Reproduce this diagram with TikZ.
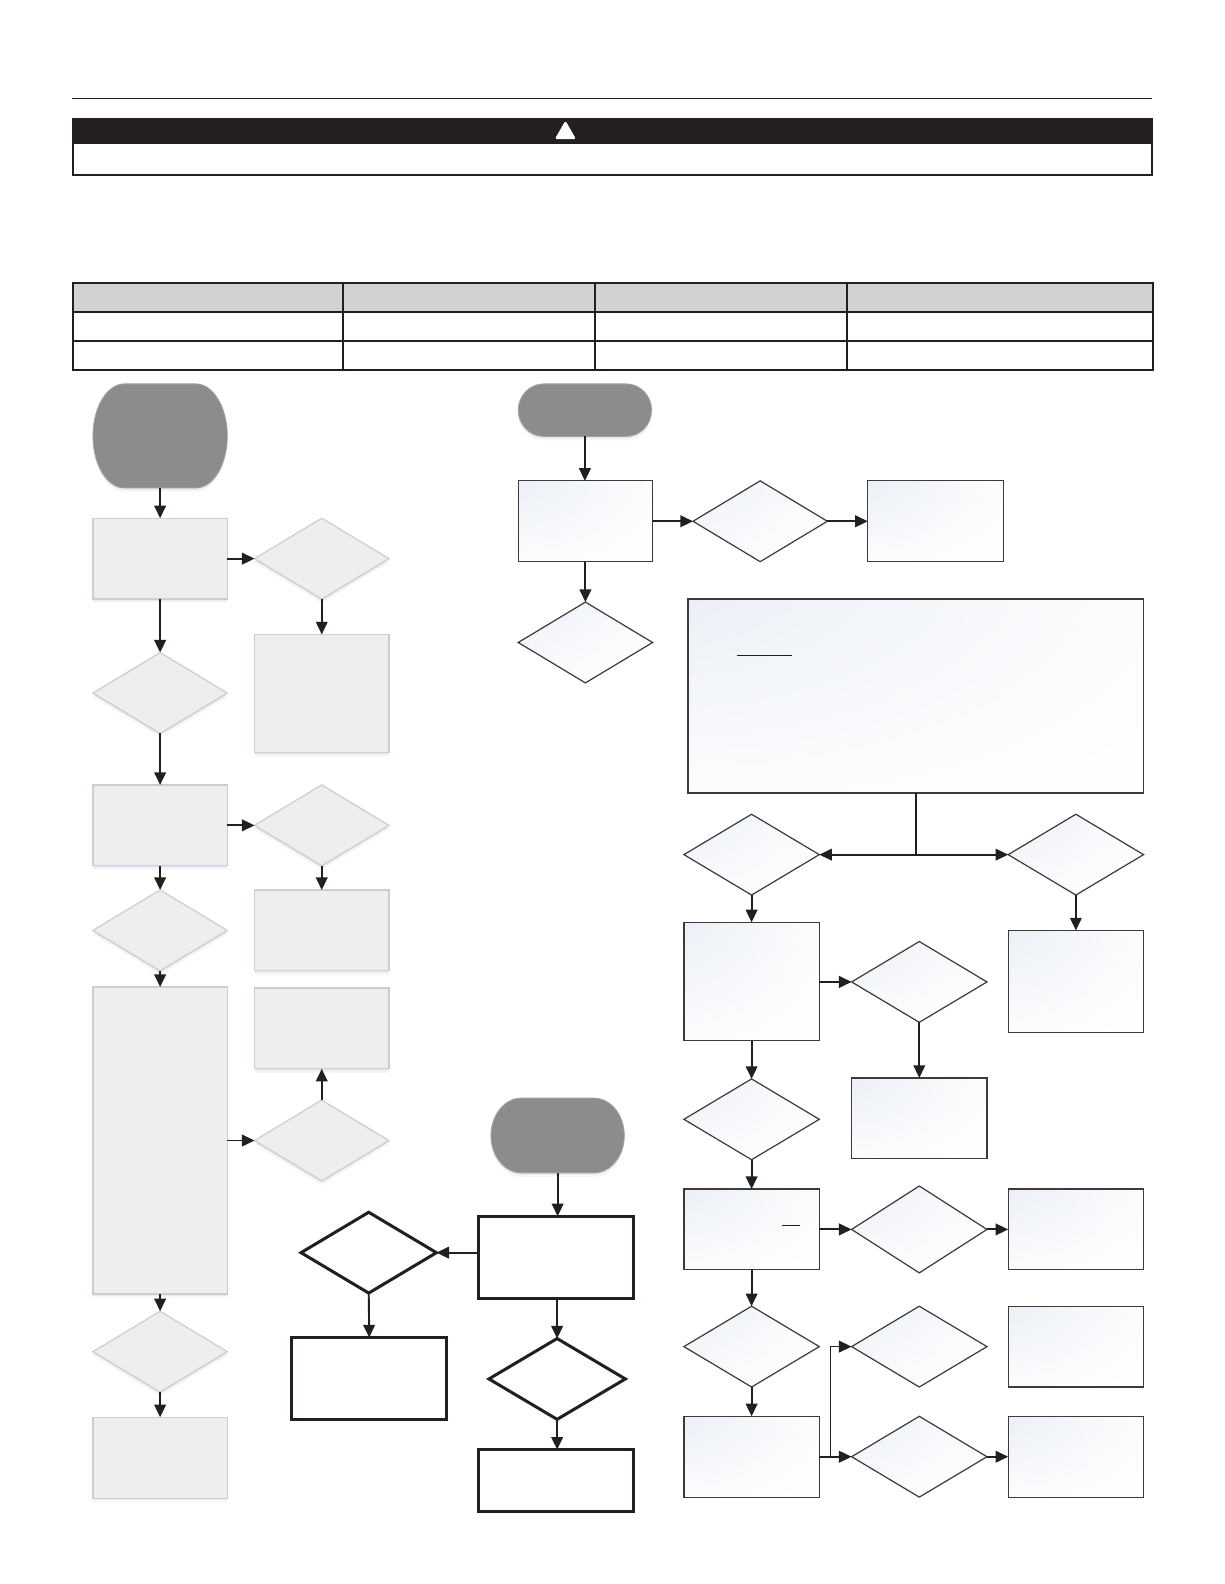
\documentclass[tikz,border=0pt]{standalone}
\usetikzlibrary{shapes.geometric,shadows,arrows.meta}
\definecolor{ink}{HTML}{231F20}
\definecolor{panelgray}{HTML}{EEEEEE}
\definecolor{panelline}{HTML}{C9CED1}
\definecolor{startgray}{HTML}{8C8C8D}
\definecolor{headgray}{HTML}{D1D2D3}
\definecolor{shadowc}{HTML}{B9BEDA}
\pgfdeclareradialshading{cornerfade}{\pgfpoint{-50bp}{50bp}}{%
  rgb(0bp)=(0.90,0.92,0.955);
  rgb(16bp)=(0.915,0.93,0.96);
  rgb(34bp)=(0.955,0.965,0.98);
  rgb(52bp)=(0.99,0.992,0.995);
  rgb(66bp)=(1,1,1);
  rgb(100bp)=(1,1,1)}
\tikzset{
  softshadow/.style={
    general shadow={fill=shadowc,fill opacity=.12,shadow xshift=0pt,shadow yshift=-4pt},
    general shadow={fill=shadowc,fill opacity=.22,shadow xshift=0pt,shadow yshift=-2pt}},
  base/.style={outer sep=0pt,inner sep=0pt},
  grayshape/.style={base,draw=panelline,line width=1.2pt,fill=panelgray,softshadow},
  tintshape/.style={base,draw=ink!88,line width=1.2pt,shading=cornerfade},
  boldshape/.style={base,draw=ink,line width=3pt,fill=white},
  cell/.style={base,draw=ink,line width=2pt},
  headcell/.style={cell,fill=headgray},
  flow/.style={draw=ink,line width=1.9pt,-{Triangle[width=11.5pt,length=12.5pt]}},
  plainflow/.style={draw=ink,line width=1.9pt},
  rule/.style={draw=ink,line width=1pt}
}
\newcommand\rbox[6]{\node[#6,rectangle,minimum width={(#4-#2)*1pt},minimum height={(#5-#3)*1pt}] (#1) at ({(#2+#4)/2},{(#3+#5)/2}) {};}
\newcommand\dbox[6]{\node[#6,diamond,aspect=1,minimum width={(#4-#2)*1pt},minimum height={(#5-#3)*1pt}] (#1) at ({(#2+#4)/2},{(#3+#5)/2}) {};}
\newcommand\capsule[7]{%
  \pgfmathsetmacro\capkx{0.55*#6}\pgfmathsetmacro\capky{0.55*#7}%
  \pgfmathsetmacro\capL{#2+#6}\pgfmathsetmacro\capR{#4-#6}%
  \pgfmathsetmacro\capT{#3+#7}\pgfmathsetmacro\capB{#5-#7}%
  \path[fill=startgray,draw=startgray!80!white,line width=.8pt,softshadow]
    (\capL,#3) -- (\capR,#3)
    .. controls ({\capR+\capkx},#3) and (#4,{\capT-\capky}) .. (#4,\capT) -- (#4,\capB)
    .. controls (#4,{\capB+\capky}) and ({\capR+\capkx},#5) .. (\capR,#5) -- (\capL,#5)
    .. controls ({\capL-\capkx},#5) and (#2,{\capB+\capky}) .. (#2,\capB) -- (#2,\capT)
    .. controls (#2,{\capT-\capky}) and ({\capL-\capkx},#3) .. (\capL,#3) -- cycle;
  \node[base,minimum width={(#4-#2)*1pt},minimum height={(#5-#3)*1pt}] (#1) at ({(#2+#4)/2},{(#3+#5)/2}) {};}
\begin{document}
\begin{tikzpicture}[x=1pt,y=-1pt]
\useasboundingbox[fill=white] (0,0) rectangle (1212,1568);

% header
\draw[rule] (71,97.5) -- (1140.5,97.5);
\rbox{wbody}{72}{118}{1140.5}{173}{base,draw=ink,line width=1.7pt}
\rbox{wbar}{71}{117}{1141}{143}{base,fill=ink}
\fill[white,draw=white,line width=2.6pt,line join=round] (559.7,122) -- (568,136.5) -- (551.4,136.5) -- cycle;

% table
\foreach \cx/\xa/\xb in {1/72/339.5,2/339.5/589,3/589/838,4/838/1141.5}{
  \rbox{th\cx}{\xa}{280}{\xb}{309}{headcell}
  \rbox{ta\cx}{\xa}{309}{\xb}{338}{cell}
  \rbox{tb\cx}{\xa}{338}{\xb}{366}{cell}
}

% left gray chart
\capsule{startA}{92}{380}{225}{483}{31}{51.5}
\rbox{gb1}{92}{513}{225}{593}{grayshape}
\dbox{gd1}{92}{646}{225}{726}{grayshape}
\rbox{gb2}{92}{777}{225}{857}{grayshape}
\dbox{gd2}{92}{881}{225}{961}{grayshape}
\rbox{gb3}{92}{977}{225}{1281}{grayshape}
\dbox{gd3}{92}{1298}{225}{1378}{grayshape}
\rbox{gb4}{92}{1403}{225}{1483}{grayshape}
\dbox{gd4}{252}{513}{385}{593}{grayshape}
\rbox{gb5}{252}{628}{385}{745}{grayshape}
\dbox{gd5}{252}{777}{385}{857}{grayshape}
\rbox{gb6}{252}{881}{385}{961}{grayshape}
\rbox{gb7}{252}{978}{385}{1058}{grayshape}
\dbox{gd6}{252}{1089}{385}{1169}{grayshape}

\draw[flow] (startA.south) -- (gb1.north);
\draw[flow] (gb1.south) -- (gd1.north);
\draw[flow] (gd1.south) -- (gb2.north);
\draw[flow] (gb2.south) -- (gd2.north);
\draw[flow] (gd2.south) -- (gb3.north);
\draw[flow] (gb3.south) -- (gd3.north);
\draw[flow] (gd3.south) -- (gb4.north);
\draw[flow] (gb1.east) -- (gd4.west);
\draw[flow] (gd4.south) -- (gb5.north);
\draw[flow] (gb2.east) -- (gd5.west);
\draw[flow] (gd5.south) -- (gb6.north);
\draw[flow] (gb3.east) -- (gd6.west);
\draw[flow] (gd6.north) -- (gb7.south);

% upper middle
\capsule{startB}{513}{380}{645}{432}{25}{26}
\rbox{tb8}{513}{476}{646}{556}{tintshape}
\dbox{td7}{686}{476}{819}{556}{tintshape}
\rbox{tb9}{859}{476}{993}{556}{tintshape}
\dbox{td8}{513}{596}{646}{676}{tintshape}
\draw[flow] (startB.south) -- (startB.south |- tb8.north);
\draw[flow] (tb8.east) -- (td7.west);
\draw[flow] (td7.east) -- (tb9.west);
\draw[flow] (tb8.south) -- (td8.north);

% right chart
\rbox{big}{681}{593}{1132}{785}{tintshape}
\draw[draw=ink,line width=.8pt] (730,649) -- (784,649);
\dbox{td9}{677}{806}{811}{886}{tintshape}
\dbox{td10}{998}{806}{1132}{886}{tintshape}
\coordinate (split) at (big.south |- td9.east);
\draw[plainflow] (big.south) -- (split);
\draw[flow] (split) -- (td9.east);
\draw[flow] (split) -- (td10.west);
\rbox{tb10}{677}{913}{811}{1030}{tintshape}
\rbox{tb17}{998}{921}{1132}{1022}{tintshape}
\dbox{td11}{843}{932}{977}{1012}{tintshape}
\rbox{tb11}{843}{1067}{977}{1147}{tintshape}
\dbox{td12}{677}{1068}{811}{1148}{tintshape}
\rbox{tb12}{677}{1177}{811}{1257}{tintshape}
\draw[draw=ink,line width=.8pt] (774,1213) -- (792,1213);
\dbox{td13}{843}{1174}{977}{1260}{tintshape}
\rbox{tb13}{998}{1177}{1132}{1257}{tintshape}
\dbox{td14}{677}{1293}{811}{1373}{tintshape}
\dbox{td16}{843}{1293}{977}{1373}{tintshape}
\rbox{tb16}{998}{1293}{1132}{1373}{tintshape}
\rbox{tb14}{677}{1402}{811}{1482}{tintshape}
\dbox{td15}{843}{1402}{977}{1482}{tintshape}
\rbox{tb15}{998}{1402}{1132}{1482}{tintshape}
\coordinate (branch) at (822,1442);
\draw[flow] (td9.south) -- (tb10.north);
\draw[flow] (td10.south) -- (tb17.north);
\draw[flow] (tb10.east |- td11.west) -- (td11.west);
\draw[flow] (td11.south) -- (tb11.north);
\draw[flow] (tb10.south) -- (td12.north);
\draw[flow] (td12.south) -- (tb12.north);
\draw[flow] (tb12.east) -- (td13.west);
\draw[flow] (td13.east) -- (tb13.west);
\draw[flow] (tb12.south) -- (td14.north);
\draw[flow] (td14.south) -- (tb14.north);
\draw[flow] (tb14.east) -- (td15.west);
\draw[flow] (td15.east) -- (tb15.west);
\draw[flow,line width=1.4pt] (branch) |- (td16.west);

% bottom middle
\capsule{startC}{486}{1087}{618}{1161}{30}{37}
\rbox{kb18}{474}{1204}{627}{1285}{boldshape}
\dbox{kd17}{298}{1200}{432}{1280}{boldshape}
\rbox{kb19}{289}{1324}{442}{1405}{boldshape}
\dbox{kd18}{484}{1325}{619}{1405}{boldshape}
\rbox{kb20}{474}{1435}{627}{1496}{boldshape}
\draw[flow] (startC.south) -- (startC.south |- kb18.north);
\draw[flow] (kb18.west |- kd17.east) -- (kd17.east);
\draw[flow] (kd17.south) -- (kb19.north);
\draw[flow] (kd18.north |- kb18.south) -- (kd18.north);
\draw[flow] (kd18.south) -- (kd18.south |- kb20.north);
\end{tikzpicture}
\end{document}
